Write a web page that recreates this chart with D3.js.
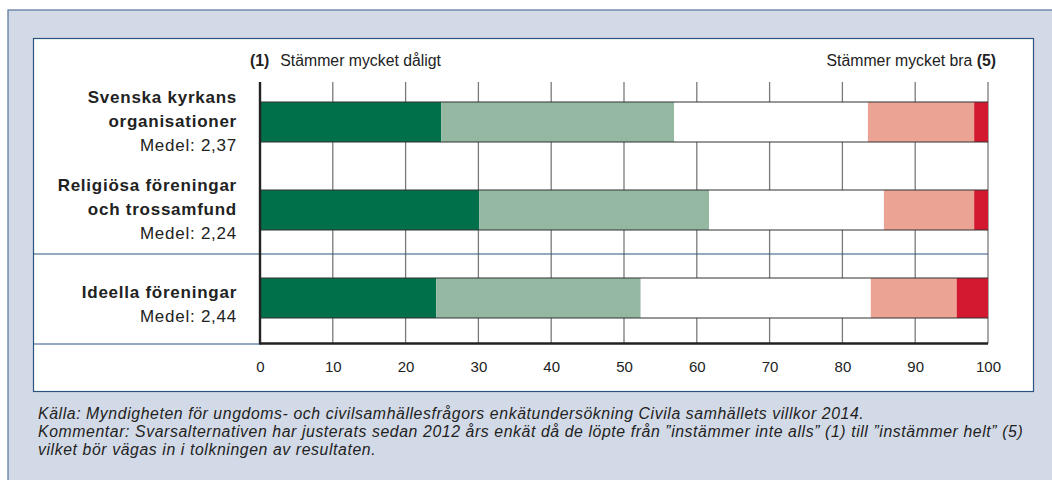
<!DOCTYPE html>
<html>
<head>
<meta charset="utf-8">
<script src="https://cdn.jsdelivr.net/npm/d3@7/dist/d3.min.js"></script>
<style>
  html, body { margin: 0; padding: 0; background: #fff; }
  svg { display: block; font-family: "Liberation Sans", Arial, Helvetica, sans-serif; }
</style>
</head>
<body>
<svg id="chart" width="1052" height="480"></svg>
<script>
// Organisation types (label lines) and their mean scores
const categoryLines = [
  ["Svenska kyrkans", "organisationer"],
  ["Religiösa föreningar", "och trossamfund"],
  ["Ideella föreningar"]
];
const means = ["2,37", "2,24", "2,44"];

// Share (%) answering each step of the 1–5 scale, per organisation type
const level1 = [24.9, 30.1, 24.2];
const level2 = [32.0, 31.6, 28.1];
const level3 = [26.6, 24.0, 31.6];
const level4 = [14.6, 12.4, 11.8];
const level5 = [1.9, 1.9, 4.3];

const xTicks = [0, 10, 20, 30, 40, 50, 60, 70, 80, 90, 100];
const leftCaption = "Stämmer mycket dåligt";
const rightCaption = "Stämmer mycket bra";
const footnotes = [
  "Källa: Myndigheten för ungdoms- och civilsamhällesfrågors enkätundersökning Civila samhällets villkor 2014.",
  "Kommentar: Svarsalternativen har justerats sedan 2012 års enkät då de löpte från ”instämmer inte alls” (1) till ”instämmer helt” (5)",
  "vilket bör vägas in i tolkningen av resultaten."
];

const keys = ["l1", "l2", "l3", "l4", "l5"];
const colors = ["#00704a", "#95b8a2", "#ffffff", "#eba393", "#d31930"];

const rows = categoryLines.map((lines, i) => ({
  idx: i, lines, mean: means[i],
  l1: level1[i], l2: level2[i], l3: level3[i], l4: level4[i], l5: level5[i]
}));

const svg = d3.select("#chart");

// outer tinted panel and inner white chart box
svg.append("rect").attr("x", 8).attr("y", 10).attr("width", 1060).attr("height", 480)
  .attr("fill", "#d3dae7").attr("stroke", "#557399").attr("stroke-width", 1.2);
svg.append("rect").attr("x", 33.5).attr("y", 38.5).attr("width", 1000).attr("height", 353)
  .attr("fill", "#ffffff").attr("stroke", "#2a5581").attr("stroke-width", 1.2);

const plotTop = 82, plotBottom = 343.5;
const x = d3.scaleLinear().domain([0, 100]).range([260, 988]);
const y = d3.scaleBand().domain(rows.map(r => r.idx)).range([78, 342]).padding(0);
const barH = 40;
const yc = i => y(i) + y.bandwidth() / 2;

// vertical grid
svg.append("g").selectAll("line").data(xTicks.filter(t => t > 0)).join("line")
  .attr("x1", d => x(d)).attr("x2", d => x(d))
  .attr("y1", plotTop).attr("y2", plotBottom)
  .attr("stroke", "#7a7a7a").attr("stroke-width", 1.3);

// row separators on the left
svg.append("line").attr("x1", 33.5).attr("x2", x(100))
  .attr("y1", y(2)).attr("y2", y(2))
  .attr("stroke", "#2a5581").attr("stroke-width", 1);
svg.append("line").attr("x1", 33.5).attr("x2", x(0))
  .attr("y1", plotBottom + 0.5).attr("y2", plotBottom + 0.5)
  .attr("stroke", "#2a5581").attr("stroke-width", 1);

// stacked bars
const stacked = d3.stack().keys(keys)(rows);
const layers = svg.append("g").selectAll("g").data(stacked).join("g")
  .attr("fill", (d, i) => colors[i]);
layers.selectAll("rect").data(d => d).join("rect")
  .attr("x", d => x(d[0]))
  .attr("width", d => x(d[1]) - x(d[0]))
  .attr("y", d => yc(d.data.idx) - barH / 2)
  .attr("height", barH);

// bar edges
const edges = svg.append("g").attr("stroke", "#333").attr("stroke-width", 1.1);
rows.forEach(r => {
  [-barH / 2, barH / 2].forEach(off => {
    edges.append("line").attr("x1", x(0)).attr("x2", x(100))
      .attr("y1", yc(r.idx) + off).attr("y2", yc(r.idx) + off);
  });
});

// axes lines
svg.append("line").attr("x1", x(0)).attr("x2", x(0))
  .attr("y1", plotTop).attr("y2", plotBottom + 1)
  .attr("stroke", "#222").attr("stroke-width", 2.4);
svg.append("line").attr("x1", x(0)).attr("x2", x(100))
  .attr("y1", plotBottom).attr("y2", plotBottom)
  .attr("stroke", "#222").attr("stroke-width", 2.4);

// x tick labels
const xAxis = d3.axisBottom(x).tickValues(xTicks).tickSize(0).tickPadding(0);
const gx = svg.append("g").attr("transform", "translate(0,360)").call(xAxis);
gx.select(".domain").remove();
gx.selectAll("text").attr("font-size", 15).attr("fill", "#222")
  .attr("font-family", "Liberation Sans, Arial, sans-serif").attr("dy", "0.8em");

// scale end captions
const capL = svg.append("text").attr("x", 250).attr("y", 66).attr("font-size", 15.8).attr("fill", "#222");
capL.append("tspan").attr("font-weight", "bold").text("(1)");
capL.append("tspan").attr("dx", 11).text(leftCaption);
const capR = svg.append("text").attr("x", 996).attr("y", 66).attr("font-size", 15.8)
  .attr("fill", "#222").attr("text-anchor", "end");
capR.append("tspan").text(rightCaption + " ");
capR.append("tspan").attr("font-weight", "bold").text("(5)");

// category labels
rows.forEach(r => {
  const n = r.lines.length;
  const first = yc(r.idx) + (n === 2 ? -19.5 : 0);
  const t = svg.append("text").attr("text-anchor", "end").attr("fill", "#222")
    .attr("font-size", 17).attr("letter-spacing", 0.75);
  r.lines.forEach((ln, k) => {
    t.append("tspan").attr("x", 237).attr("y", first + k * 24.5)
      .attr("font-weight", "bold").text(ln);
  });
  t.append("tspan").attr("x", 237).attr("y", first + n * 24)
    .text("Medel: " + r.mean);
});

// footnotes
svg.append("g").selectAll("text").data(footnotes).join("text")
  .attr("x", 38).attr("y", (d, i) => 419 + i * 18)
  .attr("font-size", 15.8).attr("font-style", "italic").attr("fill", "#222")
  .attr("letter-spacing", 0.6)
  .text(d => d);
</script>
</body>
</html>
